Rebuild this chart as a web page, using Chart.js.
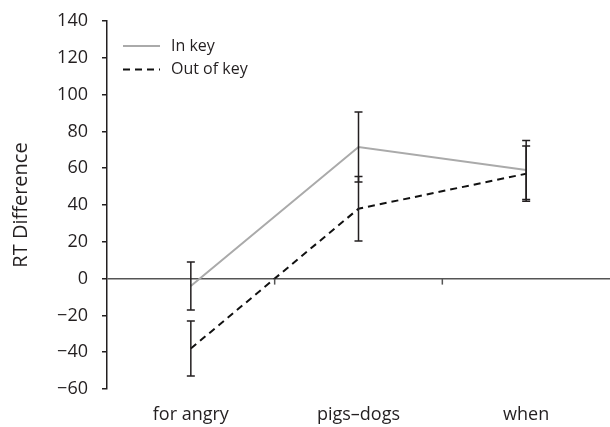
<!DOCTYPE html>
<html>
<head>
<meta charset="utf-8">
<script src="https://cdn.jsdelivr.net/npm/chart.js@4"></script>
<style>
  html, body { margin: 0; padding: 0; background: #fff; }
  #wrap { width: 610px; height: 427px; }
</style>
</head>
<body>
<div id="wrap"><canvas id="chart"></canvas></div>
<script>
// valores
const categories = ["for angry", "pigs–dogs", "when"];
const inKey = [-4, 71.5, 59];
const inKeyErr = [13, 19, 16];
const outKey = [-38, 38, 57];
const outKeyErr = [15, 17.5, 15];
const yMin = -60, yMax = 140, yStep = 20;

const FONT = "'Open Sans', sans-serif";
const INK = "#231f20";

// barras de error, marcas del eje cero y leyenda
const extras = {
  id: "extras",
  afterDatasetsDraw(chart) {
    const ctx = chart.ctx;
    const y = chart.scales.y;
    const x = chart.scales.x;
    const errs = [inKeyErr, outKeyErr];
    ctx.save();

    // marcas entre categorias sobre la linea de cero
    const y0 = y.getPixelForValue(0);
    ctx.strokeStyle = "#555";
    ctx.lineWidth = 1.5;
    for (let i = 1; i < categories.length; i++) {
      const xm = (x.getPixelForTick(i - 1) + x.getPixelForTick(i)) / 2;
      ctx.beginPath();
      ctx.moveTo(xm, y0);
      ctx.lineTo(xm, y0 + 6);
      ctx.stroke();
    }

    ctx.strokeStyle = INK;
    ctx.lineWidth = 1.5;
    chart.data.datasets.forEach((ds, d) => {
      const meta = chart.getDatasetMeta(d);
      meta.data.forEach((pt, i) => {
        const v = ds.data[i], e = errs[d][i];
        const yt = y.getPixelForValue(v + e);
        const yb = y.getPixelForValue(v - e);
        ctx.beginPath();
        ctx.moveTo(pt.x, yt); ctx.lineTo(pt.x, yb);
        ctx.moveTo(pt.x - 4, yt); ctx.lineTo(pt.x + 4, yt);
        ctx.moveTo(pt.x - 4, yb); ctx.lineTo(pt.x + 4, yb);
        ctx.stroke();
      });
    });

    // leyenda
    const lx = chart.chartArea.left + 16;
    let ly = 46;
    ctx.font = "16px " + FONT;
    ctx.textBaseline = "middle";
    chart.data.datasets.forEach(ds => {
      ctx.strokeStyle = ds.borderColor;
      ctx.lineWidth = ds.borderWidth;
      ctx.setLineDash(ds.borderDash || []);
      ctx.beginPath();
      ctx.moveTo(lx, ly); ctx.lineTo(lx + 37, ly);
      ctx.stroke();
      ctx.setLineDash([]);
      ctx.fillStyle = INK;
      ctx.fillText(ds.label, lx + 48, ly);
      ly += 23.5;
    });
    ctx.restore();
  }
};

new Chart(document.getElementById("chart"), {
  type: "line",
  data: {
    labels: categories,
    datasets: [
      {
        label: "In key",
        data: inKey,
        borderColor: "#aaaaaa",
        borderWidth: 2,
        pointRadius: 0,
        tension: 0
      },
      {
        label: "Out of key",
        data: outKey,
        borderColor: "#111111",
        borderWidth: 2,
        borderDash: [7, 5],
        pointRadius: 0,
        tension: 0
      }
    ]
  },
  options: {
    responsive: true,
    maintainAspectRatio: false,
    animation: false,
    layout: { padding: { top: 21, right: 0, bottom: 0, left: 0 } },
    plugins: {
      legend: { display: false },
      tooltip: { enabled: false }
    },
    scales: {
      x: {
        offset: true,
        grid: { display: false, drawTicks: false },
        border: { display: false },
        ticks: { color: INK, font: { family: FONT, size: 18 }, padding: 15 },
        afterFit(s) { s.height = 38; }
      },
      y: {
        min: yMin,
        max: yMax,
        border: { display: true, color: INK, width: 1.5 },
        grid: {
          color: c => (c.tick && c.tick.value === 0 ? "#555" : "transparent"),
          lineWidth: 1.5,
          tickColor: INK,
          tickLength: 5
        },
        ticks: {
          stepSize: yStep,
          color: INK,
          padding: 14,
          font: { family: FONT, size: 18 },
          callback: v => (v < 0 ? "−" + Math.abs(v) : String(v))
        },
        title: {
          display: true,
          text: "RT Difference",
          color: INK,
          font: { family: FONT, size: 20 },
          padding: { top: 9, bottom: 0 }
        },
        afterFit(s) {
          s.width = 107;
          s.paddingTop = 0;
          s.paddingBottom = 0;
        }
      }
    }
  },
  plugins: [extras]
});
</script>
</body>
</html>
